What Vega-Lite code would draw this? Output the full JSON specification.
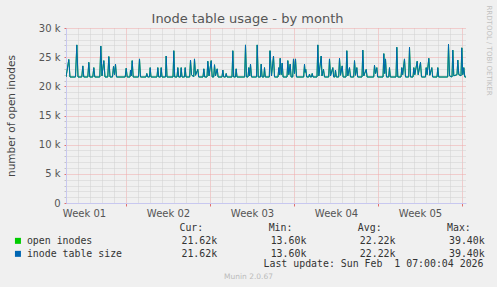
{
  "$schema": "https://vega.github.io/schema/vega-lite/v6.json",
  "width": 400,
  "height": 175,
  "autosize": {"type": "none"},
  "padding": {"left": 66, "top": 28, "right": 31, "bottom": 84},
  "background": "#F0F0F0",
  "config": {"view": {"stroke": null}},
  "title": {
    "text": "Inode table usage - by month",
    "font": "DejaVu Sans",
    "fontSize": 13,
    "fontWeight": "normal",
    "color": "#555555",
    "anchor": "middle",
    "dx": -18.5,
    "offset": -21
  },
  "data": {
    "values": [
      {"t": 0, "open": 21600, "size": 21600},
      {"t": 0.083, "open": 22600, "size": 22600},
      {"t": 0.233, "open": 24600, "size": 24600},
      {"t": 0.333, "open": 21600, "size": 21600},
      {"t": 0.792, "open": 21600, "size": 21600},
      {"t": 0.9, "open": 27100, "size": 27100},
      {"t": 1.0, "open": 21600, "size": 21600},
      {"t": 1.317, "open": 21600, "size": 21600},
      {"t": 1.4, "open": 23500, "size": 23500},
      {"t": 1.483, "open": 21600, "size": 21600},
      {"t": 1.817, "open": 21600, "size": 21600},
      {"t": 1.9, "open": 24100, "size": 24100},
      {"t": 1.983, "open": 21600, "size": 21600},
      {"t": 2.233, "open": 21600, "size": 21600},
      {"t": 2.317, "open": 23200, "size": 23200},
      {"t": 2.4, "open": 21600, "size": 21600},
      {"t": 2.817, "open": 21600, "size": 21600},
      {"t": 2.9, "open": 26900, "size": 26900},
      {"t": 3.0, "open": 21800, "size": 21800},
      {"t": 3.15, "open": 24400, "size": 24400},
      {"t": 3.25, "open": 21600, "size": 21600},
      {"t": 3.483, "open": 21600, "size": 21600},
      {"t": 3.567, "open": 25100, "size": 25100},
      {"t": 3.667, "open": 21600, "size": 21600},
      {"t": 3.875, "open": 21600, "size": 21600},
      {"t": 3.958, "open": 23400, "size": 23400},
      {"t": 4.042, "open": 22000, "size": 22000},
      {"t": 4.125, "open": 23800, "size": 23800},
      {"t": 4.208, "open": 21600, "size": 21600},
      {"t": 4.933, "open": 21600, "size": 21600},
      {"t": 5.017, "open": 23100, "size": 23100},
      {"t": 5.1, "open": 21600, "size": 21600},
      {"t": 5.333, "open": 21600, "size": 21600},
      {"t": 5.375, "open": 22800, "size": 22800},
      {"t": 5.442, "open": 21800, "size": 21800},
      {"t": 5.517, "open": 24400, "size": 24400},
      {"t": 5.6, "open": 21600, "size": 21600},
      {"t": 6.042, "open": 21600, "size": 21600},
      {"t": 6.125, "open": 24700, "size": 24700},
      {"t": 6.208, "open": 21600, "size": 21600},
      {"t": 6.667, "open": 21600, "size": 21600},
      {"t": 6.733, "open": 22200, "size": 22200},
      {"t": 6.808, "open": 21600, "size": 21600},
      {"t": 6.958, "open": 21600, "size": 21600},
      {"t": 7.017, "open": 23200, "size": 23200},
      {"t": 7.083, "open": 21600, "size": 21600},
      {"t": 7.583, "open": 21600, "size": 21600},
      {"t": 7.65, "open": 23200, "size": 23200},
      {"t": 7.725, "open": 21600, "size": 21600},
      {"t": 7.875, "open": 21600, "size": 21600},
      {"t": 7.933, "open": 23200, "size": 23200},
      {"t": 8.0, "open": 21600, "size": 21600},
      {"t": 8.292, "open": 21600, "size": 21600},
      {"t": 8.35, "open": 25200, "size": 25200},
      {"t": 8.417, "open": 21600, "size": 21600},
      {"t": 8.917, "open": 21600, "size": 21600},
      {"t": 8.983, "open": 26100, "size": 26100},
      {"t": 9.058, "open": 21600, "size": 21600},
      {"t": 9.25, "open": 21600, "size": 21600},
      {"t": 9.317, "open": 23200, "size": 23200},
      {"t": 9.392, "open": 21600, "size": 21600},
      {"t": 9.542, "open": 21600, "size": 21600},
      {"t": 9.6, "open": 23200, "size": 23200},
      {"t": 9.667, "open": 21600, "size": 21600},
      {"t": 9.875, "open": 21600, "size": 21600},
      {"t": 9.933, "open": 23200, "size": 23200},
      {"t": 10.0, "open": 21600, "size": 21600},
      {"t": 10.308, "open": 21600, "size": 21600},
      {"t": 10.375, "open": 24500, "size": 24500},
      {"t": 10.458, "open": 22000, "size": 22000},
      {"t": 10.642, "open": 21600, "size": 21600},
      {"t": 10.708, "open": 24700, "size": 24700},
      {"t": 10.792, "open": 21900, "size": 21900},
      {"t": 10.983, "open": 22900, "size": 22900},
      {"t": 11.058, "open": 21600, "size": 21600},
      {"t": 11.417, "open": 21600, "size": 21600},
      {"t": 11.483, "open": 23000, "size": 23000},
      {"t": 11.558, "open": 21600, "size": 21600},
      {"t": 11.75, "open": 21600, "size": 21600},
      {"t": 11.817, "open": 24300, "size": 24300},
      {"t": 11.917, "open": 21800, "size": 21800},
      {"t": 12.1, "open": 24400, "size": 24400},
      {"t": 12.183, "open": 21600, "size": 21600},
      {"t": 12.308, "open": 21600, "size": 21600},
      {"t": 12.375, "open": 23700, "size": 23700},
      {"t": 12.458, "open": 21800, "size": 21800},
      {"t": 12.6, "open": 23000, "size": 23000},
      {"t": 12.675, "open": 21600, "size": 21600},
      {"t": 13.0, "open": 21600, "size": 21600},
      {"t": 13.067, "open": 22800, "size": 22800},
      {"t": 13.142, "open": 21600, "size": 21600},
      {"t": 13.292, "open": 21600, "size": 21600},
      {"t": 13.35, "open": 22200, "size": 22200},
      {"t": 13.417, "open": 21600, "size": 21600},
      {"t": 13.833, "open": 21600, "size": 21600},
      {"t": 13.9, "open": 26100, "size": 26100},
      {"t": 13.975, "open": 21600, "size": 21600},
      {"t": 14.125, "open": 21600, "size": 21600},
      {"t": 14.183, "open": 23000, "size": 23000},
      {"t": 14.25, "open": 21600, "size": 21600},
      {"t": 14.892, "open": 21600, "size": 21600},
      {"t": 14.958, "open": 27100, "size": 27100},
      {"t": 15.042, "open": 21600, "size": 21600},
      {"t": 15.167, "open": 21600, "size": 21600},
      {"t": 15.233, "open": 23200, "size": 23200},
      {"t": 15.308, "open": 21800, "size": 21800},
      {"t": 15.375, "open": 23800, "size": 23800},
      {"t": 15.458, "open": 21600, "size": 21600},
      {"t": 15.875, "open": 21600, "size": 21600},
      {"t": 15.933, "open": 27100, "size": 27100},
      {"t": 16.017, "open": 21600, "size": 21600},
      {"t": 16.208, "open": 21600, "size": 21600},
      {"t": 16.267, "open": 23800, "size": 23800},
      {"t": 16.342, "open": 21600, "size": 21600},
      {"t": 16.483, "open": 21600, "size": 21600},
      {"t": 16.542, "open": 23200, "size": 23200},
      {"t": 16.608, "open": 21600, "size": 21600},
      {"t": 16.942, "open": 21600, "size": 21600},
      {"t": 17.0, "open": 26100, "size": 26100},
      {"t": 17.125, "open": 21800, "size": 21800},
      {"t": 17.292, "open": 25200, "size": 25200},
      {"t": 17.375, "open": 21600, "size": 21600},
      {"t": 17.667, "open": 21600, "size": 21600},
      {"t": 17.733, "open": 23200, "size": 23200},
      {"t": 17.792, "open": 22000, "size": 22000},
      {"t": 17.85, "open": 24800, "size": 24800},
      {"t": 17.933, "open": 22000, "size": 22000},
      {"t": 18.017, "open": 24000, "size": 24000},
      {"t": 18.092, "open": 21600, "size": 21600},
      {"t": 18.417, "open": 21600, "size": 21600},
      {"t": 18.483, "open": 24400, "size": 24400},
      {"t": 18.567, "open": 22000, "size": 22000},
      {"t": 18.683, "open": 23800, "size": 23800},
      {"t": 18.758, "open": 21600, "size": 21600},
      {"t": 18.892, "open": 21600, "size": 21600},
      {"t": 18.958, "open": 24700, "size": 24700},
      {"t": 19.042, "open": 22200, "size": 22200},
      {"t": 19.125, "open": 24700, "size": 24700},
      {"t": 19.208, "open": 21600, "size": 21600},
      {"t": 19.808, "open": 21600, "size": 21600},
      {"t": 19.875, "open": 23800, "size": 23800},
      {"t": 19.925, "open": 22400, "size": 22400},
      {"t": 19.983, "open": 22900, "size": 22900},
      {"t": 20.058, "open": 21600, "size": 21600},
      {"t": 20.233, "open": 21600, "size": 21600},
      {"t": 20.292, "open": 22100, "size": 22100},
      {"t": 20.358, "open": 21600, "size": 21600},
      {"t": 20.458, "open": 21600, "size": 21600},
      {"t": 20.517, "open": 22200, "size": 22200},
      {"t": 20.583, "open": 21600, "size": 21600},
      {"t": 20.917, "open": 21600, "size": 21600},
      {"t": 20.983, "open": 27100, "size": 27100},
      {"t": 21.067, "open": 21800, "size": 21800},
      {"t": 21.267, "open": 25200, "size": 25200},
      {"t": 21.333, "open": 21800, "size": 21800},
      {"t": 21.458, "open": 22900, "size": 22900},
      {"t": 21.542, "open": 21600, "size": 21600},
      {"t": 21.892, "open": 21600, "size": 21600},
      {"t": 21.958, "open": 24700, "size": 24700},
      {"t": 22.042, "open": 21800, "size": 21800},
      {"t": 22.233, "open": 23200, "size": 23200},
      {"t": 22.308, "open": 21600, "size": 21600},
      {"t": 22.4, "open": 21600, "size": 21600},
      {"t": 22.458, "open": 22800, "size": 22800},
      {"t": 22.525, "open": 21600, "size": 21600},
      {"t": 22.725, "open": 21600, "size": 21600},
      {"t": 22.792, "open": 24800, "size": 24800},
      {"t": 22.875, "open": 21900, "size": 21900},
      {"t": 23.017, "open": 23500, "size": 23500},
      {"t": 23.092, "open": 21600, "size": 21600},
      {"t": 23.333, "open": 21600, "size": 21600},
      {"t": 23.4, "open": 26100, "size": 26100},
      {"t": 23.483, "open": 21800, "size": 21800},
      {"t": 23.625, "open": 23200, "size": 23200},
      {"t": 23.708, "open": 21600, "size": 21600},
      {"t": 23.975, "open": 21600, "size": 21600},
      {"t": 24.042, "open": 24400, "size": 24400},
      {"t": 24.125, "open": 21900, "size": 21900},
      {"t": 24.233, "open": 23200, "size": 23200},
      {"t": 24.308, "open": 21600, "size": 21600},
      {"t": 24.667, "open": 21600, "size": 21600},
      {"t": 24.733, "open": 26200, "size": 26200},
      {"t": 24.817, "open": 21800, "size": 21800},
      {"t": 25.017, "open": 22900, "size": 22900},
      {"t": 25.092, "open": 21600, "size": 21600},
      {"t": 25.642, "open": 21600, "size": 21600},
      {"t": 25.708, "open": 23600, "size": 23600},
      {"t": 25.792, "open": 22200, "size": 22200},
      {"t": 25.9, "open": 23200, "size": 23200},
      {"t": 25.975, "open": 21600, "size": 21600},
      {"t": 26.417, "open": 21600, "size": 21600},
      {"t": 26.483, "open": 25600, "size": 25600},
      {"t": 26.558, "open": 22200, "size": 22200},
      {"t": 26.625, "open": 24700, "size": 24700},
      {"t": 26.708, "open": 21600, "size": 21600},
      {"t": 26.892, "open": 21600, "size": 21600},
      {"t": 26.958, "open": 23200, "size": 23200},
      {"t": 27.025, "open": 21600, "size": 21600},
      {"t": 27.5, "open": 21600, "size": 21600},
      {"t": 27.567, "open": 26700, "size": 26700},
      {"t": 27.65, "open": 21600, "size": 21600},
      {"t": 27.917, "open": 21600, "size": 21600},
      {"t": 27.983, "open": 23200, "size": 23200},
      {"t": 28.058, "open": 22000, "size": 22000},
      {"t": 28.208, "open": 24700, "size": 24700},
      {"t": 28.292, "open": 21600, "size": 21600},
      {"t": 28.558, "open": 21600, "size": 21600},
      {"t": 28.625, "open": 26700, "size": 26700},
      {"t": 28.708, "open": 21600, "size": 21600},
      {"t": 28.917, "open": 21600, "size": 21600},
      {"t": 28.983, "open": 23200, "size": 23200},
      {"t": 29.067, "open": 22000, "size": 22000},
      {"t": 29.267, "open": 24300, "size": 24300},
      {"t": 29.35, "open": 22000, "size": 22000},
      {"t": 29.542, "open": 24100, "size": 24100},
      {"t": 29.625, "open": 21600, "size": 21600},
      {"t": 29.958, "open": 21600, "size": 21600},
      {"t": 30.017, "open": 23200, "size": 23200},
      {"t": 30.092, "open": 22000, "size": 22000},
      {"t": 30.233, "open": 24800, "size": 24800},
      {"t": 30.317, "open": 21900, "size": 21900},
      {"t": 30.483, "open": 23200, "size": 23200},
      {"t": 30.558, "open": 21600, "size": 21600},
      {"t": 30.917, "open": 21600, "size": 21600},
      {"t": 30.983, "open": 23200, "size": 23200},
      {"t": 31.058, "open": 21600, "size": 21600},
      {"t": 31.808, "open": 21600, "size": 21600},
      {"t": 31.875, "open": 27200, "size": 27200},
      {"t": 31.958, "open": 21800, "size": 21800},
      {"t": 32.167, "open": 21600, "size": 21600},
      {"t": 32.233, "open": 26200, "size": 26200},
      {"t": 32.317, "open": 21800, "size": 21800},
      {"t": 32.583, "open": 22000, "size": 22000},
      {"t": 32.65, "open": 24500, "size": 24500},
      {"t": 32.733, "open": 22000, "size": 22000},
      {"t": 32.917, "open": 21800, "size": 21800},
      {"t": 32.983, "open": 26600, "size": 26600},
      {"t": 33.067, "open": 22000, "size": 22000},
      {"t": 33.15, "open": 23200, "size": 23200},
      {"t": 33.233, "open": 21600, "size": 21600},
      {"t": 33.333, "open": 21600, "size": 21600}
    ]
  },
  "layer": [
    {
      "mark": {"type": "line", "strokeWidth": 1, "clip": true},
      "encoding": {
        "x": {
          "field": "t",
          "type": "quantitative",
          "scale": {"domain": [0, 33.333], "nice": false, "zero": false},
          "axis": {
            "orient": "bottom",
            "values": [0,1,2,3,4,5,6,7,8,9,10,11,12,13,14,15,16,17,18,19,20,21,22,23,24,25,26,27,28,29,30,31,32,33,1.5,8.5,15.5,22.5,29.5],
            "labelExpr": "datum.value % 1 == 0.5 ? 'Week 0' + (floor(datum.value / 7) + 1) : ''",
            "labelOverlap": false,
            "labelFlush": false,
            "labelFont": "DejaVu Sans",
            "labelFontSize": 10,
            "labelColor": "#555555",
            "labelPadding": 2,
            "grid": true,
            "gridDash": [1, 1],
            "gridColor": {"condition": {"test": "datum.value % 7 == 5", "value": "#f0a8a8"}, "value": "#d0d0d0"},
            "gridOpacity": {"condition": {"test": "datum.value % 1 != 0", "value": 0}, "value": 1},
            "ticks": true,
            "tickSize": 3,
            "tickColor": "#e07070",
            "tickOpacity": {"condition": {"test": "datum.value % 7 == 5", "value": 1}, "value": 0},
            "domainColor": "#c8c8f0",
            "title": "Last update: Sun Feb\u00a0\u00a01 07:00:04 2026",
            "titleFont": "DejaVu Sans Mono",
            "titleFontSize": 9.9,
            "titleFontWeight": "normal",
            "titleColor": "#333333",
            "titleAlign": "right",
            "titleBaseline": "middle",
            "titleX": 417,
            "titleY": 60
          }
        },
        "y": {
          "field": "open",
          "type": "quantitative",
          "scale": {"domain": [0, 30000], "nice": false},
          "axis": {
            "orient": "left",
            "values": [0,1000,2000,3000,4000,5000,6000,7000,8000,9000,10000,11000,12000,13000,14000,15000,16000,17000,18000,19000,20000,21000,22000,23000,24000,25000,26000,27000,28000,29000,30000],
            "labelExpr": "datum.value % 5000 == 0 ? (datum.value == 0 ? '0' : (datum.value / 1000) + ' k') : ''",
            "labelOverlap": false,
            "labelFont": "DejaVu Sans",
            "labelFontSize": 10,
            "labelColor": "#555555",
            "labelPadding": 4,
            "grid": true,
            "gridDash": [1, 1],
            "gridColor": {"condition": {"test": "datum.value % 5000 == 0", "value": "#f0a8a8"}, "value": "#d0d0d0"},
            "tickSize": 2,
            "tickColor": {"condition": {"test": "datum.value % 5000 == 0", "value": "#e07070"}, "value": "#c4c4c4"},
            "domainColor": "#c8c8f0",
            "title": "number of open inodes",
            "titleFont": "DejaVu Sans",
            "titleFontSize": 10.5,
            "titleFontWeight": "normal",
            "titleColor": "#444444",
            "titlePadding": 22
          }
        },
        "color": {
          "datum": "open inodes",
          "type": "nominal",
          "scale": {"domain": ["open inodes", "inode table size"], "range": ["#00CC00", "#0066B3"]},
          "legend": {
            "orient": "none",
            "legendX": -53,
            "legendY": 195,
            "direction": "vertical",
            "padding": 0,
            "title": "\u200b\u00a0\u00a0\u00a0\u00a0\u00a0\u00a0\u00a0\u00a0\u00a0\u00a0\u00a0\u00a0\u00a0\u00a0\u00a0\u00a0\u00a0\u00a0\u00a0\u00a0\u00a0\u00a0\u00a0\u00a0\u00a0\u00a0\u00a0\u00a0Cur:\u00a0\u00a0\u00a0\u00a0\u00a0\u00a0\u00a0\u00a0\u00a0\u00a0\u00a0Min:\u00a0\u00a0\u00a0\u00a0\u00a0\u00a0\u00a0\u00a0\u00a0\u00a0\u00a0Avg:\u00a0\u00a0\u00a0\u00a0\u00a0\u00a0\u00a0\u00a0\u00a0\u00a0\u00a0Max:",
            "titleFont": "DejaVu Sans Mono",
            "titleFontSize": 9.9,
            "titleFontWeight": "normal",
            "titleColor": "#333333",
            "titlePadding": 3,
            "titleLimit": 0,
            "labelFont": "DejaVu Sans Mono",
            "labelFontSize": 9.9,
            "labelColor": "#333333",
            "labelLimit": 0,
            "labelOffset": 4,
            "rowPadding": -4,
            "symbolType": "square",
            "symbolSize": 9,
            "symbolStrokeWidth": 3,
            "symbolOpacity": 1,
            "labelExpr": "datum.label == 'open inodes' ? 'open inodes\u00a0\u00a0\u00a0\u00a0\u00a0\u00a0\u00a0\u00a0\u00a0\u00a0\u00a0\u00a0\u00a0\u00a0\u00a021.62k\u00a0\u00a0\u00a0\u00a0\u00a0\u00a0\u00a0\u00a0\u00a013.60k\u00a0\u00a0\u00a0\u00a0\u00a0\u00a0\u00a0\u00a0\u00a022.22k\u00a0\u00a0\u00a0\u00a0\u00a0\u00a0\u00a0\u00a0\u00a039.40k' : 'inode table size\u00a0\u00a0\u00a0\u00a0\u00a0\u00a0\u00a0\u00a0\u00a0\u00a021.62k\u00a0\u00a0\u00a0\u00a0\u00a0\u00a0\u00a0\u00a0\u00a013.60k\u00a0\u00a0\u00a0\u00a0\u00a0\u00a0\u00a0\u00a0\u00a022.22k\u00a0\u00a0\u00a0\u00a0\u00a0\u00a0\u00a0\u00a0\u00a039.40k'"
          }
        }
      }
    },
    {
      "mark": {"type": "line", "strokeWidth": 1, "clip": true},
      "encoding": {
        "x": {
          "field": "t",
          "type": "quantitative",
          "axis": {
            "orient": "top",
            "grid": false,
            "ticks": false,
            "labels": false,
            "domain": false,
            "title": "Munin 2.0.67",
            "titleFont": "DejaVu Sans",
            "titleFontSize": 7.5,
            "titleFontWeight": "normal",
            "titleColor": "#bbbbbb",
            "titleAlign": "center",
            "titleBaseline": "middle",
            "titleX": 182,
            "titleY": 248
          }
        },
        "y": {
          "field": "size",
          "type": "quantitative",
          "axis": {
            "orient": "right",
            "grid": false,
            "ticks": false,
            "labels": false,
            "domain": false,
            "title": "RRDTOOL / TOBI OETIKER",
            "titleFont": "DejaVu Sans",
            "titleFontSize": 7,
            "titleFontWeight": "normal",
            "titleColor": "#c0c0c0",
            "titleAngle": 90,
            "titleAlign": "left",
            "titleBaseline": "middle",
            "titleX": 22,
            "titleY": -23
          }
        },
        "color": {"datum": "inode table size", "type": "nominal"}
      }
    }
  ],
  "resolve": {"axis": {"x": "independent", "y": "independent"}}
}
